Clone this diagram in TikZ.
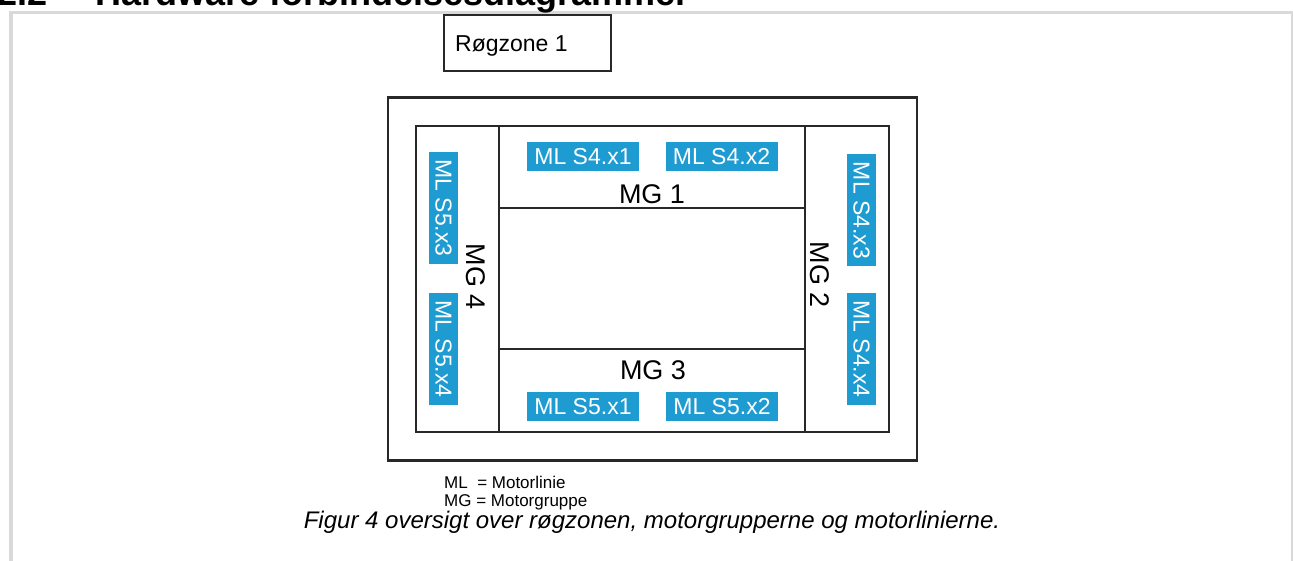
\documentclass[tikz,border=0pt]{standalone}
\usepackage{fontspec}
\setmainfont{Liberation Sans}
\definecolor{mlblue}{RGB}{30,156,210}
\definecolor{framegray}{RGB}{217,217,217}
\definecolor{linegray}{RGB}{40,40,40}
\tikzset{
  mlbox/.style={fill=mlblue, text=white, inner sep=0pt, minimum width=112pt, minimum height=29pt, font=\fontsize{23}{26}\selectfont},
  mglabel/.style={inner sep=0pt, font=\fontsize{27}{30}\selectfont},
  thinline/.style={draw=linegray, line width=1.1pt},
}
\begin{document}
\begin{tikzpicture}[x=1pt,y=-1pt]
\useasboundingbox (0,0) rectangle (1293,561);
\clip (0,0) rectangle (1293,561);
% page frame
\draw[framegray, line width=4pt] (11,561) -- (11,12.5);
\draw[framegray, line width=3pt] (9,12.5) -- (1293,12.5);
\draw[framegray, line width=2.5pt] (1292,12.5) -- (1292,561);
% heading (cut at top)
\node[anchor=base west, inner sep=0pt, font=\fontsize{36}{40}\bfseries] (hnum) at (-3,6) {2.2};
\node[anchor=base west, inner sep=0pt, font=\fontsize{36}{40}\bfseries] (htext) at (95,6) {Hardware forbindelsesdiagrammer};
% Roegzone
\node[draw=linegray, line width=1.1pt, minimum width=167pt, minimum height=56pt, inner sep=0pt] (rz) at (527.5,43) {};
\node[anchor=base west, inner sep=0pt, font=\fontsize{23}{26}\selectfont] (rztext) at (455,52) {Røgzone 1};
% outer box
\node[draw=linegray, line width=2.2pt, minimum width=529pt, minimum height=363pt, inner sep=0pt] (outer) at (652.5,279) {};
% inner box
\node[thinline, minimum width=473pt, minimum height=306pt, inner sep=0pt] (inner) at (652.5,279) {};
\coordinate (vlt) at (499,126);
\coordinate (vlb) at (499,432);
\coordinate (vrt) at (805,126);
\coordinate (vrb) at (805,432);
\coordinate (h1l) at (499,208);
\coordinate (h1r) at (805,208);
\coordinate (h3l) at (499,349);
\coordinate (h3r) at (805,349);
\draw[thinline] (vlt) -- (vlb);
\draw[thinline] (vrt) -- (vrb);
\draw[thinline] (h1l) -- (h1r);
\draw[thinline] (h3l) -- (h3r);
% ML boxes
\node[mlbox] (s4x1) at (583,156.5) {ML S4.x1};
\node[mlbox] (s4x2) at (721.5,156.5) {ML S4.x2};
\node[mlbox] (s5x1) at (583,406.5) {ML S5.x1};
\node[mlbox] (s5x2) at (722,406.5) {ML S5.x2};
\node[mlbox, rotate=-90] (s5x3) at (443.5,208) {ML S5.x3};
\node[mlbox, rotate=-90] (s5x4) at (443.5,349) {ML S5.x4};
\node[mlbox, rotate=-90] (s4x3) at (861.5,210.5) {ML S4.x3};
\node[mlbox, rotate=-90] (s4x4) at (861.5,349) {ML S4.x4};
% MG labels
\node[mglabel, anchor=base] (mg1) at (652,204) {MG 1};
\node[mglabel, anchor=base] (mg3) at (653,379) {MG 3};
\node[mglabel, rotate=-90] (mg4) at (476,277) {MG 4};
\node[mglabel, rotate=-90] (mg2) at (820,275) {MG 2};
% legend
\node[anchor=base west, inner sep=0pt, font=\fontsize{17}{19}\selectfont] (leg1) at (444,488) {ML\ \ = Motorlinie};
\node[anchor=base west, inner sep=0pt, font=\fontsize{17}{19}\selectfont] (leg2) at (444,506.5) {MG = Motorgruppe};
% caption
\node[anchor=base, inner sep=0pt, font=\fontsize{24}{27}\itshape] (cap) at (652,528) {Figur 4 oversigt over røgzonen, motorgrupperne og motorlinierne.};
\end{tikzpicture}
\end{document}
